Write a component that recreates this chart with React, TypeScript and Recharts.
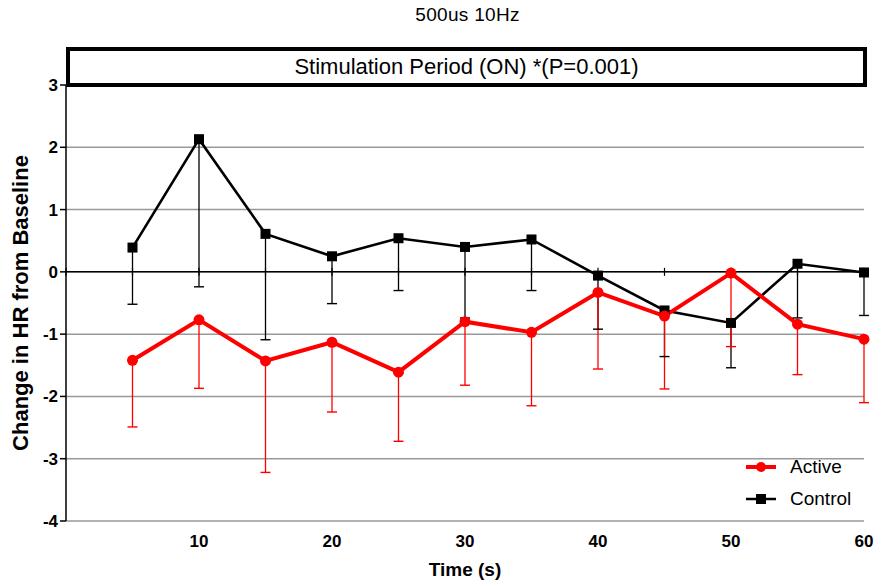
import React from 'react';
import {
  ComposedChart,
  Line,
  Scatter,
  ErrorBar,
  XAxis,
  YAxis,
  CartesianGrid,
  ReferenceLine,
} from 'recharts';

const times = [5, 10, 15, 20, 25, 30, 35, 40, 45, 50, 55, 60];
const activeMean = [-1.42, -0.77, -1.43, -1.13, -1.61, -0.8, -0.97, -0.33, -0.71, -0.02, -0.84, -1.08];
const activeLow = [-2.49, -1.87, -3.22, -2.25, -2.72, -1.82, -2.15, -1.56, -1.88, -1.2, -1.65, -2.1];
const controlMean = [0.39, 2.13, 0.61, 0.25, 0.54, 0.4, 0.52, -0.06, -0.62, -0.82, 0.13, -0.01];
const controlLow = [-0.52, -0.24, -1.09, -0.51, -0.3, -0.74, -0.3, -0.92, -1.36, -1.54, -0.74, -0.7];

const xTicks = [10, 20, 30, 40, 50, 60];
const yTicks = [-4, -3, -2, -1, 0, 1, 2, 3];
const zeroTicks = [0, 5, 10, 15, 20, 25, 30, 35, 40, 45, 50, 55, 60];

const data = times.map((t, i) => ({
  t,
  active: activeMean[i],
  activeErr: [activeMean[i] - activeLow[i], 0],
  control: controlMean[i],
  controlErr: [controlMean[i] - controlLow[i], 0],
}));

const tickData = zeroTicks.map((t) => ({ t, y: 0 }));
const activeCaps = times.map((t, i) => ({ t, y: activeLow[i] }));
const controlCaps = times.map((t, i) => ({ t, y: controlLow[i] }));

const FONT = '"Liberation Sans", Arial, sans-serif';
const RED = '#ff0000';

const SquareDot = (props: any) => {
  const { cx, cy } = props;
  if (cx == null || cy == null) return null;
  return <rect x={cx - 5} y={cy - 5} width={10} height={10} fill="#000" />;
};

const RoundDot = (props: any) => {
  const { cx, cy } = props;
  if (cx == null || cy == null) return null;
  return <circle cx={cx} cy={cy} r={5.5} fill={RED} />;
};

const AxisTick = (props: any) => {
  const { cx, cy } = props;
  if (cx == null || cy == null) return null;
  return <line x1={cx} x2={cx} y1={cy - 4} y2={cy + 4} stroke="#000" strokeWidth={1.2} />;
};

const makeCap = (color: string) => (props: any) => {
  const { cx, cy } = props;
  if (cx == null || cy == null) return null;
  return <line x1={cx - 5} x2={cx + 5} y1={cy} y2={cy} stroke={color} strokeWidth={1.4} />;
};
const RedCap = makeCap(RED);
const BlackCap = makeCap('#000');

const LegendBox = () => (
  <div style={{ position: 'absolute', left: 745, top: 451, fontFamily: FONT, fontSize: 19, color: '#000' }}>
    <div style={{ display: 'flex', alignItems: 'center', height: 32 }}>
      <svg width={32} height={12}>
        <line x1={1} x2={31} y1={6} y2={6} stroke={RED} strokeWidth={4} />
        <circle cx={16} cy={6} r={5} fill={RED} />
      </svg>
      <span style={{ marginLeft: 13 }}>Active</span>
    </div>
    <div style={{ display: 'flex', alignItems: 'center', height: 32 }}>
      <svg width={32} height={12}>
        <line x1={1} x2={31} y1={6} y2={6} stroke="#000" strokeWidth={2.5} />
        <rect x={11} y={1} width={10} height={10} fill="#000" />
      </svg>
      <span style={{ marginLeft: 13 }}>Control</span>
    </div>
  </div>
);

export default function App() {
  return (
    <div style={{ position: 'absolute', left: 0, top: 0, width: 877, height: 581, background: '#fff', fontFamily: FONT }}>
      <div style={{ position: 'absolute', left: 67, width: 801, top: 4, textAlign: 'center', fontSize: 19, letterSpacing: 0.3, color: '#000' }}>
        500us 10Hz
      </div>
      <div
        style={{
          position: 'absolute',
          left: 66,
          top: 47,
          width: 793,
          height: 32,
          border: '4.5px solid #000',
          textAlign: 'center',
          lineHeight: '32px',
          fontSize: 22,
          color: '#000',
          background: '#fff',
          zIndex: 2,
        }}
      >
        Stimulation Period (ON) *(P=0.001)
      </div>
      <ComposedChart
        width={877}
        height={581}
        data={data}
        margin={{ top: 85, right: 13, left: 0, bottom: 0 }}
      >
        <CartesianGrid vertical={false} stroke="#999" strokeWidth={1.5} />
        <XAxis
          dataKey="t"
          type="number"
          domain={[0, 60]}
          ticks={xTicks}
          axisLine={false}
          tickLine={false}
          height={60}
          tick={{ fontSize: 17, fontWeight: 'bold', fill: '#000', fontFamily: FONT }}
          tickMargin={8}
          label={{ value: 'Time (s)', position: 'insideBottom', offset: 5, fontSize: 19, fontWeight: 'bold', fill: '#000', fontFamily: FONT }}
        />
        <YAxis
          type="number"
          domain={[-4, 3]}
          ticks={yTicks}
          width={66}
          stroke="#000"
          strokeWidth={1.5}
          tickSize={6}
          tick={{ fontSize: 17, fontWeight: 'bold', fill: '#000', fontFamily: FONT }}
          label={{ value: 'Change in HR from Baseline', angle: -90, position: 'insideLeft', offset: 20, style: { textAnchor: 'middle' }, fontSize: 22, fontWeight: 'bold', fill: '#000', fontFamily: FONT }}
        />
        <ReferenceLine y={0} stroke="#000" strokeWidth={1.5} />
        <Scatter data={tickData} dataKey="y" shape={<AxisTick />} isAnimationActive={false} legendType="none" />
        {/* whiskers without caps (width 0); caps drawn only at the lower ends */}
        <Line type="linear" dataKey="control" stroke="none" dot={false} activeDot={false} isAnimationActive={false}>
          <ErrorBar dataKey="controlErr" width={0} stroke="#000" strokeWidth={1.3} />
        </Line>
        <Line type="linear" dataKey="active" stroke="none" dot={false} activeDot={false} isAnimationActive={false}>
          <ErrorBar dataKey="activeErr" width={0} stroke={RED} strokeWidth={1.3} />
        </Line>
        <Scatter data={controlCaps} dataKey="y" shape={<BlackCap />} isAnimationActive={false} legendType="none" />
        <Scatter data={activeCaps} dataKey="y" shape={<RedCap />} isAnimationActive={false} legendType="none" />
        <Line
          type="linear"
          dataKey="control"
          stroke="#000"
          strokeWidth={2.6}
          dot={<SquareDot />}
          activeDot={false}
          isAnimationActive={false}
        />
        <Line
          type="linear"
          dataKey="active"
          stroke={RED}
          strokeWidth={4}
          dot={<RoundDot />}
          activeDot={false}
          isAnimationActive={false}
        />
      </ComposedChart>
      <LegendBox />
    </div>
  );
}
